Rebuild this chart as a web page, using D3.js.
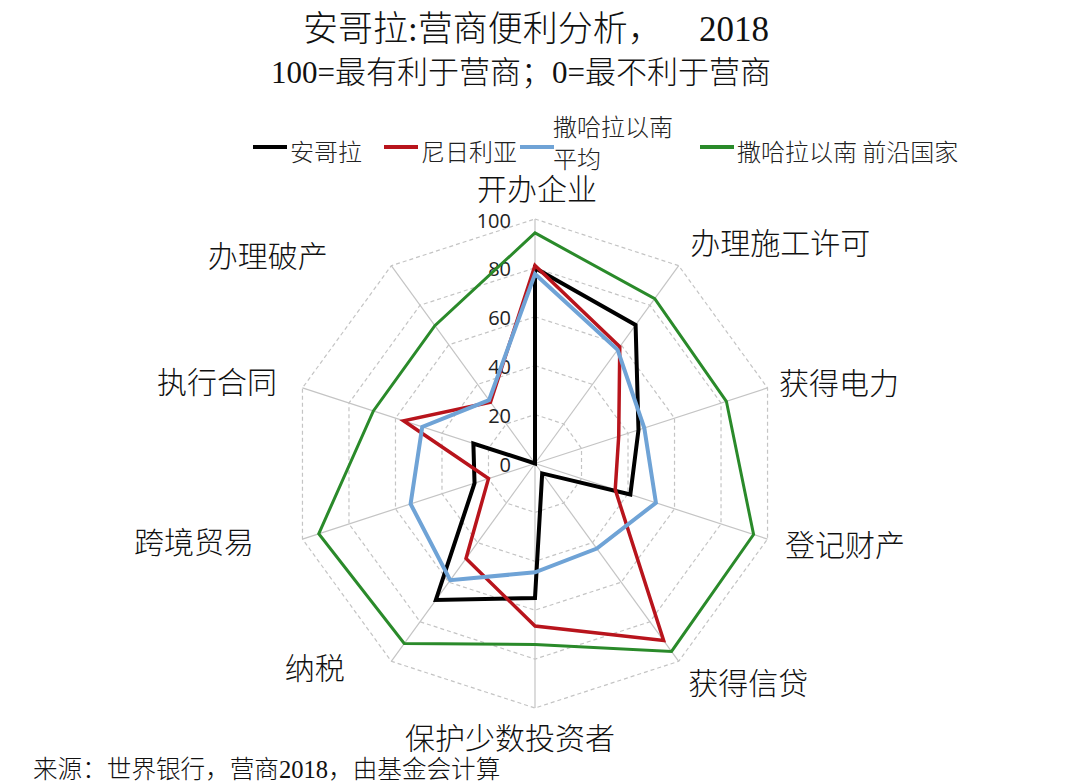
<!DOCTYPE html>
<html>
<head>
<meta charset="utf-8">
<script src="https://cdn.jsdelivr.net/npm/d3@7"></script>
<style>
  html, body { margin: 0; padding: 0; background: #fff; }
  svg { display: block; }
</style>
</head>
<body>
<svg id="chart" width="1080" height="784"></svg>
<script>
// ---------- data ----------
const categories = ['开办企业','办理施工许可','获得电力','登记财产','获得信贷','保护少数投资者','纳税','跨境贸易','执行合同','办理破产'];
const angola   = [80, 70, 44.5, 41, 5, 55, 69, 26, 26.5, 0];
const nigeria  = [81, 59, 36, 34.5, 89.5, 66.5, 48, 20, 56.5, 31];
const ssaAvg   = [77.5, 57.5, 47, 52, 43, 44.5, 59, 53.5, 48.5, 32];
const frontier = [94.3, 83.3, 82.3, 94, 95, 74, 91, 93, 69.5, 69.7];
const seriesNames = ['安哥拉', '尼日利亚', '撒哈拉以南平均', '撒哈拉以南 前沿国家'];
const tickValues = [0, 20, 40, 60, 80, 100];
const titleText = '安哥拉:营商便利分析，';
const titleYear = '2018';
const subtitleText = '100=最有利于营商；0=最不利于营商';
const sourceText = '来源：世界银行，营商2018，由基金会计算';

// ---------- layout / style ----------
const cx = 535, cy = 463.5, R = 244.5;
const colors = ['#000000', '#b8141c', '#6fa3d6', '#2a8a2a'];
const widths = [4, 3.5, 4, 3];
// label nudges relative to radial anchor point (radius R+30)
const labelNudge = [[2,-2],[84,0],[43,2],[49,-5],[52,-5],[-25,-2],[-59,-20],[-80,-8],[-57,1],[-106,13]];
const cjk = "'Noto Sans CJK SC', 'Noto Sans', sans-serif";
const serifMix = "'Liberation Serif', 'Noto Sans CJK SC', serif";

const svg = d3.select('#chart');
const r = d3.scaleLinear().domain([0, 100]).range([0, R]);
const step = 2 * Math.PI / categories.length;
const angle = i => i * step;

// titles
svg.append('text')
  .attr('x', 303).attr('y', 29)
  .attr('dominant-baseline', 'central')
  .style('font-family', serifMix).style('font-size', '35px').style('font-weight', 300)
  .attr('fill', '#111')
  .text(titleText)
  .append('tspan').attr('x', 699).text(titleYear);

svg.append('text')
  .attr('x', 271).attr('y', 72)
  .attr('dominant-baseline', 'central')
  .style('font-family', serifMix).style('font-size', '31px').style('font-weight', 300)
  .attr('fill', '#111')
  .text(subtitleText);

svg.append('text')
  .attr('x', 33).attr('y', 769)
  .attr('dominant-baseline', 'central')
  .style('font-family', serifMix).style('font-size', '24.6px').style('font-weight', 300)
  .attr('fill', '#111')
  .text(sourceText);

// legend
const legend = svg.append('g');
const legendItems = [
  {x: 253, lines: ['安哥拉']},
  {x: 384, lines: ['尼日利亚']},
  {x: 520, lines: ['撒哈拉以南', '平均']},
  {x: 700, lines: ['撒哈拉以南 前沿国家']}
];
legendItems.forEach((it, i) => {
  legend.append('line')
    .attr('x1', it.x).attr('x2', it.x + 34)
    .attr('y1', 147).attr('y2', 147)
    .attr('stroke', colors[i]).attr('stroke-width', 4);
  const t = legend.append('text')
    .attr('x', it.x + 37)
    .style('font-family', cjk).style('font-size', '24px').style('font-weight', 300)
    .attr('fill', '#222')
    .attr('dominant-baseline', 'central');
  if (it.lines.length === 1) {
    t.attr('y', 150).text(it.lines[0]);
  } else {
    t.append('tspan').attr('x', it.x + 33).attr('y', 125).text(it.lines[0]);
    t.append('tspan').attr('x', it.x + 33).attr('y', 157).text(it.lines[1]);
  }
});

const g = svg.append('g').attr('transform', `translate(${cx},${cy})`);

// grid rings
const ring = d3.lineRadial().angle((d, i) => angle(i)).radius(d => r(d)).curve(d3.curveLinearClosed);
tickValues.filter(v => v > 0).forEach(v => {
  g.append('path')
    .attr('d', ring(categories.map(() => v)))
    .attr('fill', 'none')
    .attr('stroke', '#c4c4c4')
    .attr('stroke-width', 1.2)
    .attr('stroke-dasharray', '4,3');
});

// spokes
categories.forEach((c, i) => {
  const a = angle(i);
  g.append('line')
    .attr('x1', 0).attr('y1', 0)
    .attr('x2', r(100) * Math.sin(a)).attr('y2', -r(100) * Math.cos(a))
    .attr('stroke', '#c4c4c4').attr('stroke-width', 1.2);
});

// tick labels
tickValues.forEach(v => {
  g.append('text')
    .attr('x', -24).attr('y', -r(v) + 1)
    .attr('text-anchor', 'end')
    .attr('dominant-baseline', 'central')
    .style('font-family', "'Open Sans', sans-serif").style('font-size', '20px')
    .attr('fill', '#222')
    .text(v);
});

// category labels
categories.forEach((c, i) => {
  const a = angle(i);
  const rr = r(100) + 30;
  g.append('text')
    .attr('x', rr * Math.sin(a) + labelNudge[i][0])
    .attr('y', -rr * Math.cos(a) + labelNudge[i][1])
    .attr('text-anchor', 'middle')
    .attr('dominant-baseline', 'central')
    .style('font-family', cjk).style('font-size', '30px').style('font-weight', 300)
    .attr('fill', '#111')
    .text(c);
});

// series
const seriesData = [angola, nigeria, ssaAvg, frontier];
seriesData.forEach((vals, s) => {
  g.append('path')
    .attr('d', ring(vals))
    .attr('fill', 'none')
    .attr('stroke', colors[s])
    .attr('stroke-width', widths[s])
    .attr('stroke-linejoin', 'miter')
    .attr('data-name', seriesNames[s]);
});
</script>
</body>
</html>
